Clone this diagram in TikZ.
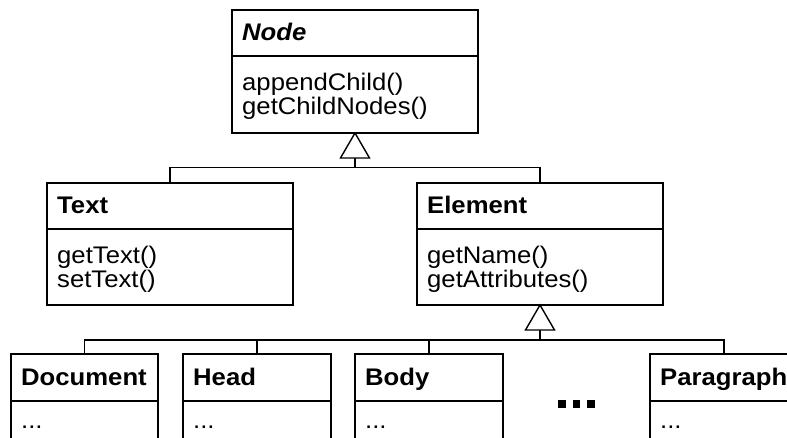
\documentclass[tikz,border=0pt]{standalone}
\usepackage{fontspec}
\setmainfont[FakeStretch=1.07]{Liberation Sans}
\usetikzlibrary{calc}

\tikzset{
  classbox/.style={draw=black, line width=1.4pt, rectangle, inner sep=0pt, outer sep=0pt, anchor=north west},
  bigbox/.style={classbox, minimum width=246pt, minimum height=123pt},
  smallbox/.style={classbox, minimum width=148pt, minimum height=110pt},
  rule/.style={draw=black, line width=1.4pt},
  link/.style={draw=black, line width=1.4pt},
  gentri/.style={draw=black, fill=white, line width=1.4pt, line join=miter},
  lbl/.style={anchor=base west, inner sep=0pt, font=\fontsize{24pt}{28pt}\selectfont},
  dotmark/.style={fill=black}
}

\begin{document}
\begin{tikzpicture}[x=1pt, y=-1pt]
\useasboundingbox (0,0) rectangle (787,437);
\clip (0,0) rectangle (787,437);

% ---- abstract base class ----
\node[bigbox] (nodecls) at (232,10) {};
\draw[rule] (nodecls.west |- 0,56) -- (nodecls.east |- 0,56);
\node[lbl] (nodename) at (242,40) {\bfseries\itshape Node};
\node[lbl] (nodem1) at (242,90) {appendChild()};
\node[lbl] (nodem2) at (242,114.5) {getChildNodes()};

% ---- second level ----
\node[bigbox, minimum height=122pt] (textcls) at (47,183) {};
\draw[rule] (textcls.west |- 0,229) -- (textcls.east |- 0,229);
\node[lbl] (textname) at (57,213) {\bfseries Text};
\node[lbl] (textm1) at (57,263) {getText()};
\node[lbl] (textm2) at (57,287.5) {setText()};

\node[bigbox, minimum height=122pt] (elemcls) at (417,183) {};
\draw[rule] (elemcls.west |- 0,229) -- (elemcls.east |- 0,229);
\node[lbl] (elemname) at (427,213) {\bfseries Element};
\node[lbl] (elemm1) at (427,263) {getName()};
\node[lbl] (elemm2) at (427,287.5) {getAttributes()};

% ---- third level ----
\node[smallbox, minimum width=147pt] (doccls) at (11,354) {};
\node[smallbox] (headcls) at (183,354) {};
\node[smallbox] (bodycls) at (355,354) {};
\node[smallbox] (paracls) at (650,354) {};
\foreach \c in {doccls,headcls,bodycls,paracls}
  \draw[rule] (\c.west |- 0,401) -- (\c.east |- 0,401);

\node[lbl] (docname) at (21,385) {\bfseries Document};
\node[lbl] (headname) at (193,385) {\bfseries Head};
\node[lbl] (bodyname) at (365,385) {\bfseries Body};
\node[lbl] (paraname) at (660,385) {\bfseries Paragraph};
\node[lbl] (docdots) at (21,428) {...};
\node[lbl] (headdots) at (193,428) {...};
\node[lbl] (bodydots) at (365,428) {...};
\node[lbl] (paradots) at (660,428) {...};

% ellipsis between Body and Paragraph
\fill[dotmark] (558,400) rectangle ++(7.5,7.5);
\fill[dotmark] (572.5,400) rectangle ++(7.5,7.5);
\fill[dotmark] (587,400) rectangle ++(7.5,7.5);

% ---- generalisation: Text, Element -> Node ----
\coordinate (tri1base) at ($(nodecls.south)+(0,25)$);
\coordinate (hub1) at ($(nodecls.south)+(0,34.5)$);
\draw[link] (textcls.north) |- (hub1) -| (elemcls.north);
\draw[link] (tri1base) -- (hub1);
\draw[gentri] (nodecls.south) -- ++(-14.5,25) -- ++(29,0) -- cycle;

% ---- generalisation: Document, Head, Body, Paragraph -> Element ----
\coordinate (tri2base) at ($(elemcls.south)+(0,25)$);
\coordinate (hub2) at ($(elemcls.south)+(0,35)$);
\draw[link] (doccls.north) |- (hub2) -| (paracls.north);
\draw[link] (headcls.north) -- (headcls.north |- hub2);
\draw[link] (bodycls.north) -- (bodycls.north |- hub2);
\draw[link] (tri2base) -- (hub2);
\draw[gentri] (elemcls.south) -- ++(-14.5,25) -- ++(29,0) -- cycle;
\end{tikzpicture}
\end{document}
